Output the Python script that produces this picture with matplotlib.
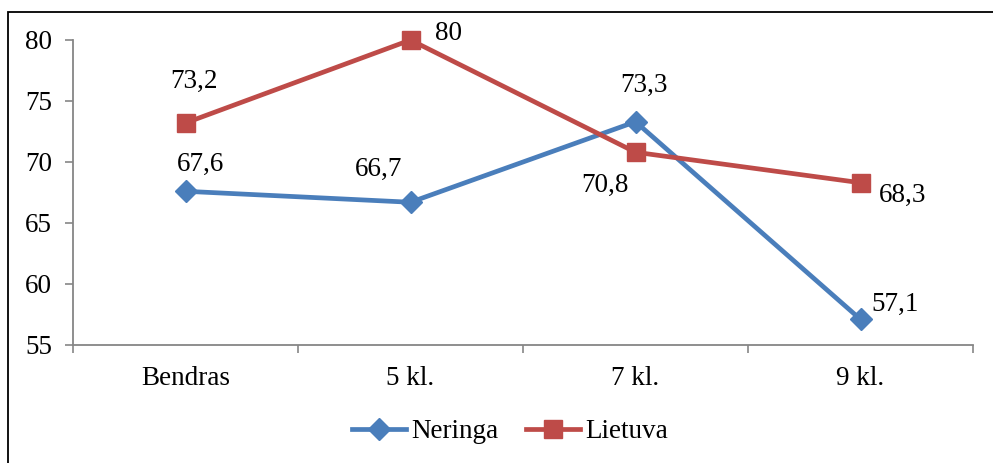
import matplotlib
matplotlib.use("Agg")
import matplotlib.pyplot as plt
from matplotlib.patches import Rectangle
from matplotlib.ticker import FixedLocator

categories = ["Bendras", "5 kl.", "7 kl.", "9 kl."]
neringa = [67.6, 66.7, 73.3, 57.1]
lietuva = [73.2, 80.0, 70.8, 68.3]
neringa_labels = ["67,6", "66,7", "73,3", "57,1"]
lietuva_labels = ["73,2", "80", "70,8", "68,3"]
y_ticks = [55, 60, 65, 70, 75, 80]

# label offsets in points (dx, dy) per point
neringa_off = [(11, 19), (-23, 24), (6, 26), (25, 11)]
lietuva_off = [(6, 30), (27, 5), (-22, -24), (30, -9)]

blue = "#4A7EBB"
red = "#BE4B48"
gray = "#868686"

plt.rcParams["font.family"] = ["Liberation Serif", "DejaVu Serif"]
plt.rcParams["font.size"] = 19.5

fig = plt.figure(figsize=(9.93, 4.63), dpi=100)
ax = fig.add_axes([73 / 993, 1 - 345 / 463, 900 / 993, 305 / 463])

x = list(range(len(categories)))
ax.plot(x, neringa, color=blue, lw=3.4, marker="D", markersize=11, label="Neringa", clip_on=False)
ax.plot(x, lietuva, color=red, lw=3.4, marker="s", markersize=13, label="Lietuva", clip_on=False)

for xi, v, t, o in zip(x, neringa, neringa_labels, neringa_off):
    ax.annotate(t, (xi, v), xytext=o, textcoords="offset points", ha="center", va="center")
for xi, v, t, o in zip(x, lietuva, lietuva_labels, lietuva_off):
    ax.annotate(t, (xi, v), xytext=o, textcoords="offset points", ha="center", va="center")

ax.set_xlim(-0.5, len(categories) - 0.5)
ax.set_ylim(55, 80)
ax.set_yticks(y_ticks)
ax.set_xticks(x)
ax.set_xticklabels(categories)
ax.xaxis.set_minor_locator(FixedLocator([i - 0.5 for i in range(len(categories) + 1)]))
ax.tick_params(axis="x", which="major", length=0, pad=15)
ax.tick_params(axis="x", which="minor", length=6, width=1.2, color=gray, direction="out")
ax.tick_params(axis="y", length=6, width=1.2, color=gray, pad=9)

for s in ["top", "right"]:
    ax.spines[s].set_visible(False)
for s in ["left", "bottom"]:
    ax.spines[s].set_color(gray)
    ax.spines[s].set_linewidth(1.3)

leg = fig.legend(loc="center", bbox_to_anchor=(510 / 993, 1 - 432 / 463), ncol=2,
                 frameon=False, handlelength=2.0, handletextpad=0.2, columnspacing=1.0)

fig.patches.append(Rectangle((8 / 993, -0.1), 1.2, 1.1 - 12 / 463, transform=fig.transFigure,
                             fill=False, edgecolor="black", lw=1.3))

fig.savefig("out.png", dpi=100)
